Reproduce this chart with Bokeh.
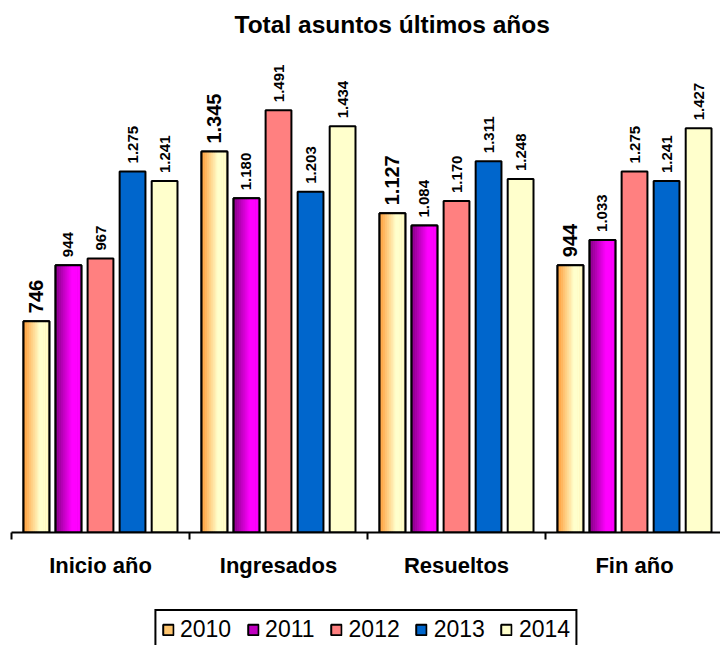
import numpy as np
from bokeh.plotting import figure
from bokeh.layouts import column
from bokeh.models import (ColumnDataSource, Range1d, FixedTicker, Legend,
                          LegendItem, LinearAxis)
from bokeh.core.properties import value
from bokeh.embed import file_html
from bokeh.resources import INLINE

# ---------------- data ----------------
categories = ["Inicio año", "Ingresados", "Resueltos", "Fin año"]
years = ["2010", "2011", "2012", "2013", "2014"]
v2010 = [746, 1345, 1127, 944]
v2011 = [944, 1180, 1084, 1033]
v2012 = [967, 1491, 1170, 1275]
v2013 = [1275, 1203, 1311, 1241]
v2014 = [1241, 1434, 1248, 1427]
series = [v2010, v2011, v2012, v2013, v2014]

# ---------------- style ----------------
base_colors = ["#FFC670", "#C000C0", "#FF8080", "#0066CC", "#FFFFCC"]
gradients = {0: ("#FF9933", "#FFFFCC"), 1: ("#800080", "#FF00FF")}
offsets = [-0.36, -0.18, 0.0, 0.18, 0.36]
bar_w = 0.145
FONT = "Liberation Sans"


def hex2rgb(h):
    h = h.lstrip("#")
    return [int(h[i:i + 2], 16) for i in (0, 2, 4)]


def lerp(c1, c2, t):
    a, b = hex2rgb(c1), hex2rgb(c2)
    return "#%02X%02X%02X" % tuple(int(round(a[i] + (b[i] - a[i]) * t)) for i in range(3))


def fmt(v):
    return f"{v:,}".replace(",", ".")


p = figure(width=720, height=608, x_range=Range1d(0, 3.983),
           y_range=Range1d(0, 1723), output_backend="svg",
           toolbar_location=None, x_axis_location=None, y_axis_location=None,
           min_border_left=11, min_border_right=0, min_border_top=44,
           min_border_bottom=76)
p.outline_line_color = None
p.grid.visible = False

p.title.text = "Total asuntos últimos años"
p.title.text_font = FONT
p.title.text_font_size = "24.5px"
p.title.text_font_style = "bold"
p.title.text_color = "black"
p.title.align = "left"
p.title.offset = 223
p.title.standoff = 14

cat_idx = np.arange(len(categories)) + 0.5
N = 14
for i, vals in enumerate(series):
    xs = cat_idx + offsets[i]
    src = ColumnDataSource(dict(x=xs, top=vals))
    p.vbar(x="x", top="top", width=bar_w, source=src,
           fill_color=base_colors[i], line_color="black", line_width=2)
    if i in gradients:
        c1, c2 = gradients[i]
        sx, st, sc = [], [], []
        for k in range(N):
            t = (k + 0.5) / N
            col = lerp(c1, c2, min(1.0, t / 0.62))
            for j in range(len(categories)):
                sx.append(xs[j] - bar_w / 2 + t * bar_w)
                st.append(vals[j])
                sc.append(col)
        ssrc = ColumnDataSource(dict(x=sx, top=st, color=sc))
        p.vbar(x="x", top="top", width=bar_w / N * 1.15, source=ssrc,
               fill_color="color", line_color=None)
        p.vbar(x="x", top="top", width=bar_w, source=src,
               fill_color=None, line_color="black", line_width=2)
    lsrc = ColumnDataSource(dict(x=xs, y=vals, text=[fmt(v) for v in vals]))
    p.text(x="x", y="y", text="text", source=lsrc, angle=np.pi / 2,
           text_align="left", text_baseline="middle", y_offset=-8,
           text_font=value(FONT), text_font_style="bold",
           text_font_size="20px" if i == 0 else "15px", text_color="black")

xaxis = LinearAxis(ticker=FixedTicker(ticks=list(cat_idx),
                                      minor_ticks=list(range(len(categories) + 1))))
xaxis.major_label_overrides = {float(c): lab for c, lab in zip(cat_idx, categories)}
xaxis.major_tick_line_color = None
xaxis.major_tick_out = 0
xaxis.major_tick_in = 0
xaxis.minor_tick_in = 0
xaxis.minor_tick_out = 7
xaxis.minor_tick_line_width = 2
xaxis.minor_tick_line_color = "black"
xaxis.axis_line_width = 2
xaxis.axis_line_color = "black"
xaxis.major_label_standoff = 13
xaxis.major_label_text_font = FONT
xaxis.major_label_text_font_size = "22px"
xaxis.major_label_text_font_style = "bold"
xaxis.major_label_text_color = "black"
p.add_layout(xaxis, "below")

# ---------------- legend strip ----------------
lg = figure(width=720, height=37, x_range=Range1d(0, 1), y_range=Range1d(0, 1),
            output_backend="svg", toolbar_location=None,
            x_axis_location=None, y_axis_location=None, min_border=0)
lg.outline_line_color = None
lg.grid.visible = False
items = []
for i, yr in enumerate(years):
    # swatch-only renderer (hidden; used just for the legend glyph)
    r = lg.vbar(x=[0.5], top=[0], width=0.1, fill_color=base_colors[i],
                line_color="black", line_width=2)
    r.visible = False
    items.append(LegendItem(label=yr, renderers=[r]))
legend = Legend(items=items, orientation="horizontal", location="top_center",
                glyph_width=13, glyph_height=13, label_standoff=6, spacing=15,
                padding=5, margin=1,
                label_text_font=FONT, label_text_font_size="23px",
                label_text_color="black",
                border_line_color="black", border_line_alpha=1.0,
                border_line_width=2)
lg.add_layout(legend, "center")

layout = column(p, lg, spacing=0)
open("out.html", "w").write(file_html(layout, INLINE))
